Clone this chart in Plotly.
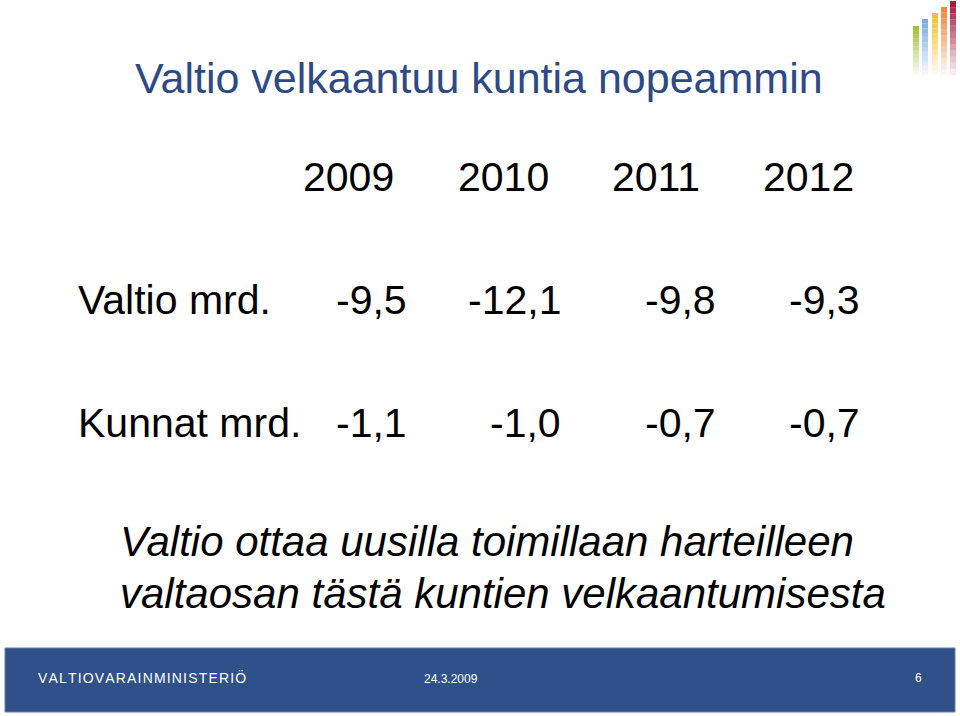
import plotly.graph_objects as go

title = "Valtio velkaantuu kuntia nopeammin"
years = ["2009", "2010", "2011", "2012"]
row_labels = ["Valtio mrd.", "Kunnat mrd."]
valtio = ["-9,5", "-12,1", "-9,8", "-9,3"]
kunnat = ["-1,1", "-1,0", "-0,7", "-0,7"]
note = ["Valtio ottaa uusilla toimillaan harteilleen", "valtaosan tästä kuntien velkaantumisesta"]
footer_org = "VALTIOVARAINMINISTERIÖ"
footer_date = "24.3.2009"
footer_page = "6"

F = "Liberation Sans, Arial, sans-serif"
fig = go.Figure()
ann = []
def t(x, y, s, size, color="black", xa="left", italic=False, family=F):
    ann.append(dict(x=x, y=y, text=f"<i>{s}</i>" if italic else s, showarrow=False,
                    xanchor=xa, yanchor="middle", font=dict(size=size, color=color, family=family)))

t(133, 78, title, 43, "#2E4A86")
year_x = [348, 503, 656, 808]
val_x = [409, 563, 718, 862]
for x, y in zip(year_x, years):
    t(x, 177, y, 41, xa="center")
t(76, 300, row_labels[0], 41)
t(76, 423, row_labels[1], 41)
for x, v in zip(val_x, valtio):
    t(x, 300, v, 41, xa="right")
for x, v in zip(val_x, kunnat):
    t(x, 423, v, 41, xa="right")
t(118, 541, note[0], 42, italic=True)
t(118, 593, note[1], 42, italic=True)
t(36, 677, "\u200a".join(footer_org), 14, "white", family="Liberation Sans Narrow, Arial Narrow, sans-serif")
t(451, 679, footer_date, 12, "white", xa="center", family="Liberation Sans Narrow, sans-serif")
t(918, 678, footer_page, 12, "white", xa="center")

shapes = [dict(type="rect", x0=5, x1=955, y0=648, y1=712, fillcolor="#2F5089",
               line=dict(width=1, color="#5E7FA8"), layer="below")]
bars = [(913, 26, "#9DC33B"), (922, 19, "#7AAEE0"), (932, 13, "#F2C230"),
        (941, 7, "#EE8A3A"), (950, 1, "#A8193F")]
for x, top, c in bars:
    n = 12
    for i in range(n):
        y0 = top + i * (75 - top) / n
        y1 = top + (i + 1) * (75 - top) / n
        shapes.append(dict(type="rect", x0=x, x1=x + 6, y0=y0, y1=y1, fillcolor=c,
                           opacity=max(0.05, 1 - i / n), line=dict(width=0), layer="below"))

fig.update_layout(width=960, height=716, margin=dict(l=0, r=0, t=0, b=0),
                  plot_bgcolor="white", paper_bgcolor="white",
                  xaxis=dict(range=[0, 960], visible=False, fixedrange=True),
                  yaxis=dict(range=[716, 0], visible=False, fixedrange=True),
                  annotations=ann, shapes=shapes, showlegend=False)
fig.write_html("out.html", config={"displayModeBar": False},
               post_script="document.body.style.margin='0';document.body.style.overflow='hidden';")
